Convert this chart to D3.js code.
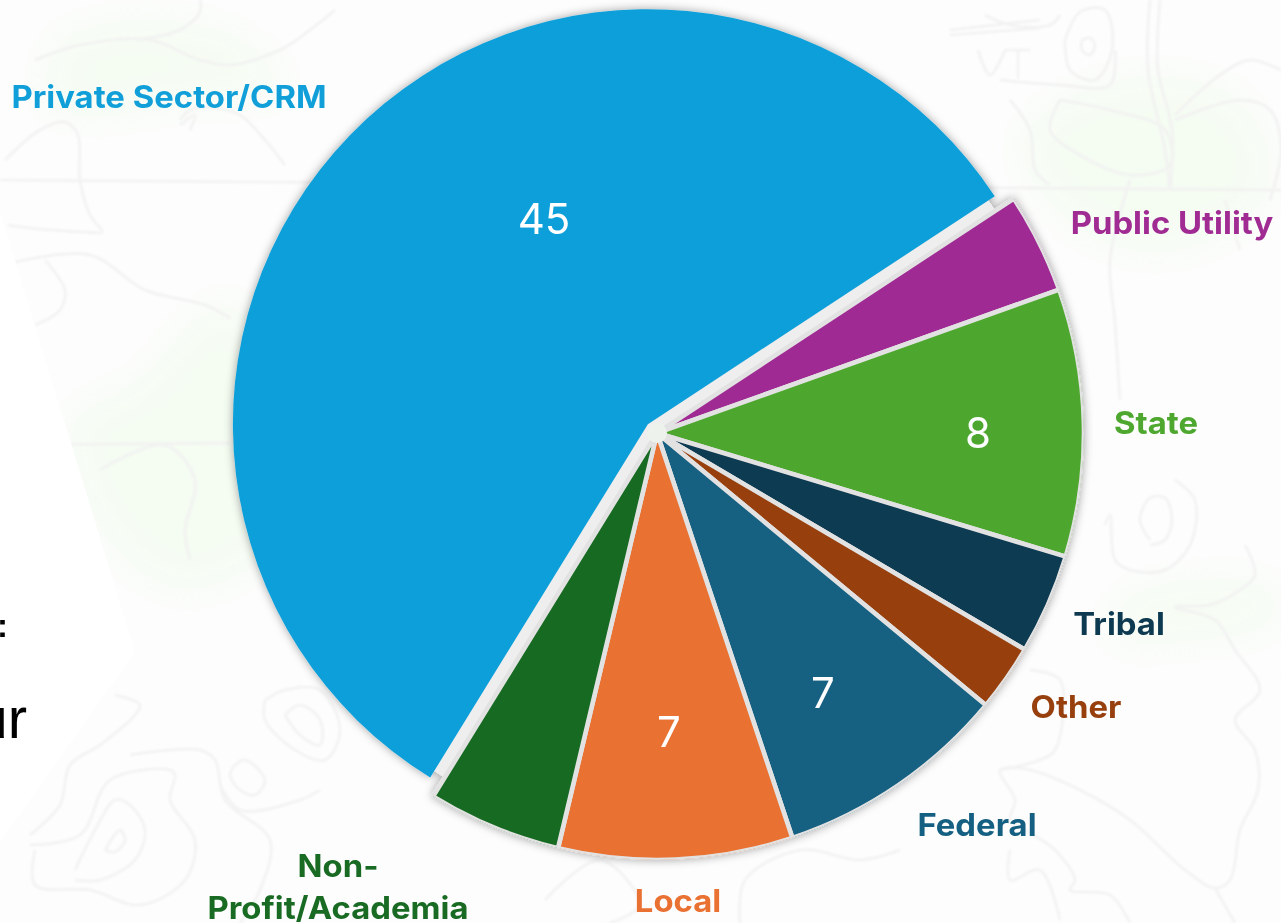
<!DOCTYPE html>
<html><head><meta charset="utf-8">
<script src="https://cdn.jsdelivr.net/npm/d3@7/dist/d3.min.js"></script>
<style>html,body{margin:0;padding:0;background:#fff;overflow:hidden}svg{display:block}</style>
</head><body><svg id="c" width="1281" height="923"></svg>
<script>
// Data (clockwise from the exploded slice's trailing edge)
const categories = ["Public Utility","State","Tribal","Other","Federal","Local","Non-Profit/Academia","Private Sector/CRM"];
const values = [3,8,3,2,7,7,4,45];
const colors = ["#a02b93","#4ea72e","#0e3a51","#97400e","#156082","#e97132","#196b24","#119fd9"];
const shownValues = ["Private Sector/CRM","State","Federal","Local"];

// Layout
const W=1281,H=923, cx=657, cy=433, R=427, RX=415, START=56.7*Math.PI/180, EXPLODE=12.7;
const nameLayout = {
 "Private Sector/CRM":{x:169,y:108,lines:["Private Sector/CRM"]},
 "Public Utility":{x:1172,y:234,lines:["Public Utility"]},
 "State":{x:1156,y:434,lines:["State"]},
 "Tribal":{x:1119,y:635,lines:["Tribal"]},
 "Other":{x:1076,y:718,lines:["Other"]},
 "Federal":{x:977,y:836,lines:["Federal"]},
 "Local":{x:678,y:912,lines:["Local"]},
 "Non-Profit/Academia":{x:338,y:877,lines:["Non-","Profit/Academia"]}
};
const valueLayout = {"Private Sector/CRM":[544,219],"State":[978,433],"Federal":[823,693],"Local":[669,732]};

const svg=d3.select("#c");
const defs=svg.append("defs");
const blur=defs.append("filter").attr("id","blur").attr("x","-30%").attr("y","-30%").attr("width","160%").attr("height","160%");
blur.append("feGaussianBlur").attr("stdDeviation",22);
const soft=defs.append("filter").attr("id","soft");
soft.append("feGaussianBlur").attr("stdDeviation",0.9);
const sh=defs.append("filter").attr("id","shadow").attr("filterUnits","userSpaceOnUse").attr("x",0).attr("y",0).attr("width",W).attr("height",H);
sh.append("feDropShadow").attr("dx",0).attr("dy",0).attr("stdDeviation",5).attr("flood-color","#000").attr("flood-opacity",0.36);
defs.append("clipPath").attr("id","disc").append("circle").attr("cx",cx).attr("cy",cy).attr("r",R);

// Faded map background
svg.append("rect").attr("width",W).attr("height",H).attr("fill","#fdfdfd");
const blobs=[[[130,390],[230,300],[290,420],[280,540],[180,590],[110,540],[70,420]],
 [[1020,140],[1120,80],[1240,100],[1270,190],[1180,250],[1080,230]],
 [[1120,600],[1210,580],[1281,590],[1281,620],[1180,640],[1110,640]],
 [[60,40],[220,30],[290,90],[200,100],[50,110]]];
const closed=d3.line().curve(d3.curveCatmullRomClosed);
svg.append("g").attr("filter","url(#blur)").selectAll("path").data(blobs).join("path")
 .attr("d",closed).attr("fill","#eefbe8").attr("opacity",0.5);

const contours=[
 [[5,160],[40,130],[65,122],[78,135],[80,180],[90,215],[102,232],[85,232],[30,228],[8,225]],
 [[15,262],[90,255],[145,290],[205,305],[230,318]],
 [[45,260],[65,290],[60,310],[35,325]],
 [[180,120],[190,110],[215,108],[240,115],[265,140],[285,165]],
 [[180,125],[195,115],[190,130]],
 [[135,40],[180,30],[200,12],[200,0]],
 [[35,60],[80,45],[150,40],[200,60],[230,65],[280,50],[310,30],[335,10]],
 [[0,180],[1281,190]],
 [[0,445],[230,443]],
 [[100,470],[165,445],[195,480],[185,530],[190,560]],
 [[30,835],[60,805],[70,765],[100,745],[135,715],[140,705],[115,695]],
 [[30,845],[80,835],[110,780],[170,770],[175,775],[170,800],[195,840],[185,880],[140,905],[90,890],[35,885],[35,850]],
 [[75,870],[95,830],[115,800],[130,805],[145,830],[135,860],[100,880],[75,880]],
 [[105,850],[120,830],[125,840],[115,852],[105,850]],
 [[235,765],[245,760],[265,780],[255,795],[240,790],[230,775],[235,765]],
 [[220,785],[240,810],[300,800],[320,790]],
 [[130,755],[200,750],[215,760],[225,800],[270,840],[260,890],[240,923]],
 [[265,700],[285,690],[320,690],[340,730],[325,760],[295,750],[265,720],[265,700]],
 [[285,715],[300,705],[320,720],[320,745],[300,735],[285,715]],
 [[545,900],[600,860],[640,905],[610,923]],
 [[740,923],[745,880],[800,850],[860,860],[900,850]],
 [[985,15],[1010,25],[1050,25],[1060,15]],
 [[950,30],[1040,20]],[[950,35],[1040,28]],
 [[978,50],[990,75],[1005,50]],[[1005,50],[1015,50],[1030,50]],[[1018,50],[1018,78]],
 [[1065,40],[1080,12],[1105,10],[1112,50],[1095,80],[1070,70],[1065,40]],
 [[1082,40],[1090,38],[1095,45],[1090,55],[1082,50],[1082,40]],
 [[1000,80],[1060,85],[1110,85],[1115,50]],
 [[1150,0],[1148,70],[1165,150],[1170,190]],[[1160,0],[1158,70],[1172,130],[1170,190]],
 [[1010,100],[1030,130],[1035,170],[1050,185]],
 [[1060,100],[1050,130],[1080,155],[1130,175],[1170,165],[1165,130],[1110,110],[1060,100]],
 [[1175,115],[1220,75],[1250,60],[1281,70]],[[1175,120],[1240,100],[1270,110],[1281,150],[1270,200]],
 [[1130,180],[1110,260],[1115,323],[1120,400]],
 [[1240,250],[1225,200]],
 [[1105,525],[1110,515],[1115,560],[1130,570],[1165,570],[1190,545],[1195,500],[1175,480]],
 [[1150,540],[1140,520],[1150,498],[1165,498],[1172,520],[1165,540],[1150,545]],
 [[1245,545],[1255,575],[1240,590],[1210,605],[1175,607],[1215,620],[1235,650],[1260,690],[1235,720],[1255,750],[1258,790],[1240,830],[1230,880],[1215,888],[1185,870],[1130,820],[1080,790],[1030,770],[1000,770],[1015,800],[1010,820],[1025,830],[1055,850],[1075,880],[1070,890],[1110,895],[1130,923]],
 [[1010,850],[1010,880],[1040,870],[1060,920]],
 [[1215,888],[1235,923]],
 [[1030,670],[1060,680],[1055,750],[1040,760],[1000,770]]
];
const line=d3.line().curve(d3.curveCatmullRom.alpha(0.5));
svg.append("g").attr("filter","url(#soft)").selectAll("path").data(contours).join("path")
 .attr("d",line).attr("fill","none").attr("stroke","#f1f2f1").attr("stroke-width",2.6);

// White angular panel on the left, with cut-off slide text
svg.append("path").attr("fill","#fff").attr("d",d3.line()([[0,212],[135,652],[0,842]]));
svg.append("text").attr("x",8).attr("y",637).attr("font-family","Liberation Sans").attr("font-size",33).attr("font-weight",700).attr("fill","#000").attr("text-anchor","end").text(":");
svg.append("text").attr("x",27).attr("y",738).attr("font-family","Liberation Sans").attr("font-size",58).attr("fill","#000").attr("text-anchor","end").text("ur");

// Pie
const pieData=d3.pie().sort(null).startAngle(START).endAngle(START+2*Math.PI)
 .value((d,i)=>values[i])(categories);
const arc=d3.arc().innerRadius(0).outerRadius(R);
const arcX=d3.arc().innerRadius(0).outerRadius(RX);
const arcGap=d3.arc().innerRadius(0).outerRadius(R-22);
const color=d3.scaleOrdinal(categories,colors);
const px=pieData.find(d=>d.data==="Private Sector/CRM");
const mid=(px.startAngle+px.endAngle)/2;

const pie=svg.append("g").attr("filter","url(#shadow)");
const main=pie.append("g").attr("clip-path","url(#disc)").append("g").attr("transform",`translate(${cx},${cy})`);
main.append("path").attr("d",arcGap(px)).attr("fill","#eeeeee");
main.selectAll("path.slice").data(pieData.filter(d=>d.data!=="Private Sector/CRM")).join("path")
 .attr("class","slice").attr("d",arc).attr("fill",d=>color(d.data)).attr("stroke","#e2e2e2").attr("stroke-width",4.6).attr("stroke-linejoin","round");
main.append("circle").attr("r",10).attr("fill","#eef2ec");

pie.append("path").attr("transform",`translate(${cx+Math.sin(mid)*EXPLODE},${cy-Math.cos(mid)*EXPLODE})`)
 .attr("d",arcX(px)).attr("fill",color(px.data));

// Category labels (the reference's lettering is slightly wide)
const names=svg.append("g").attr("font-family","Inter").attr("font-weight",700).attr("font-size",31).attr("text-anchor","middle");
categories.forEach(c=>{
 const l=nameLayout[c];
 const t=names.append("text").attr("fill",color(c)).attr("transform",`translate(${l.x},${l.y}) scale(1.06,1)`);
 l.lines.forEach((s,i)=>t.append("tspan").attr("x",0).attr("dy",i?42:0).text(s));
});

// Value labels
svg.append("g").attr("font-family","Inter").attr("font-size",42).attr("fill","#fff").attr("text-anchor","middle")
 .selectAll("text").data(shownValues).join("text")
 .attr("x",c=>valueLayout[c][0]).attr("y",c=>valueLayout[c][1]).attr("dy","0.36em")
 .text(c=>values[categories.indexOf(c)]);
</script></body></html>
